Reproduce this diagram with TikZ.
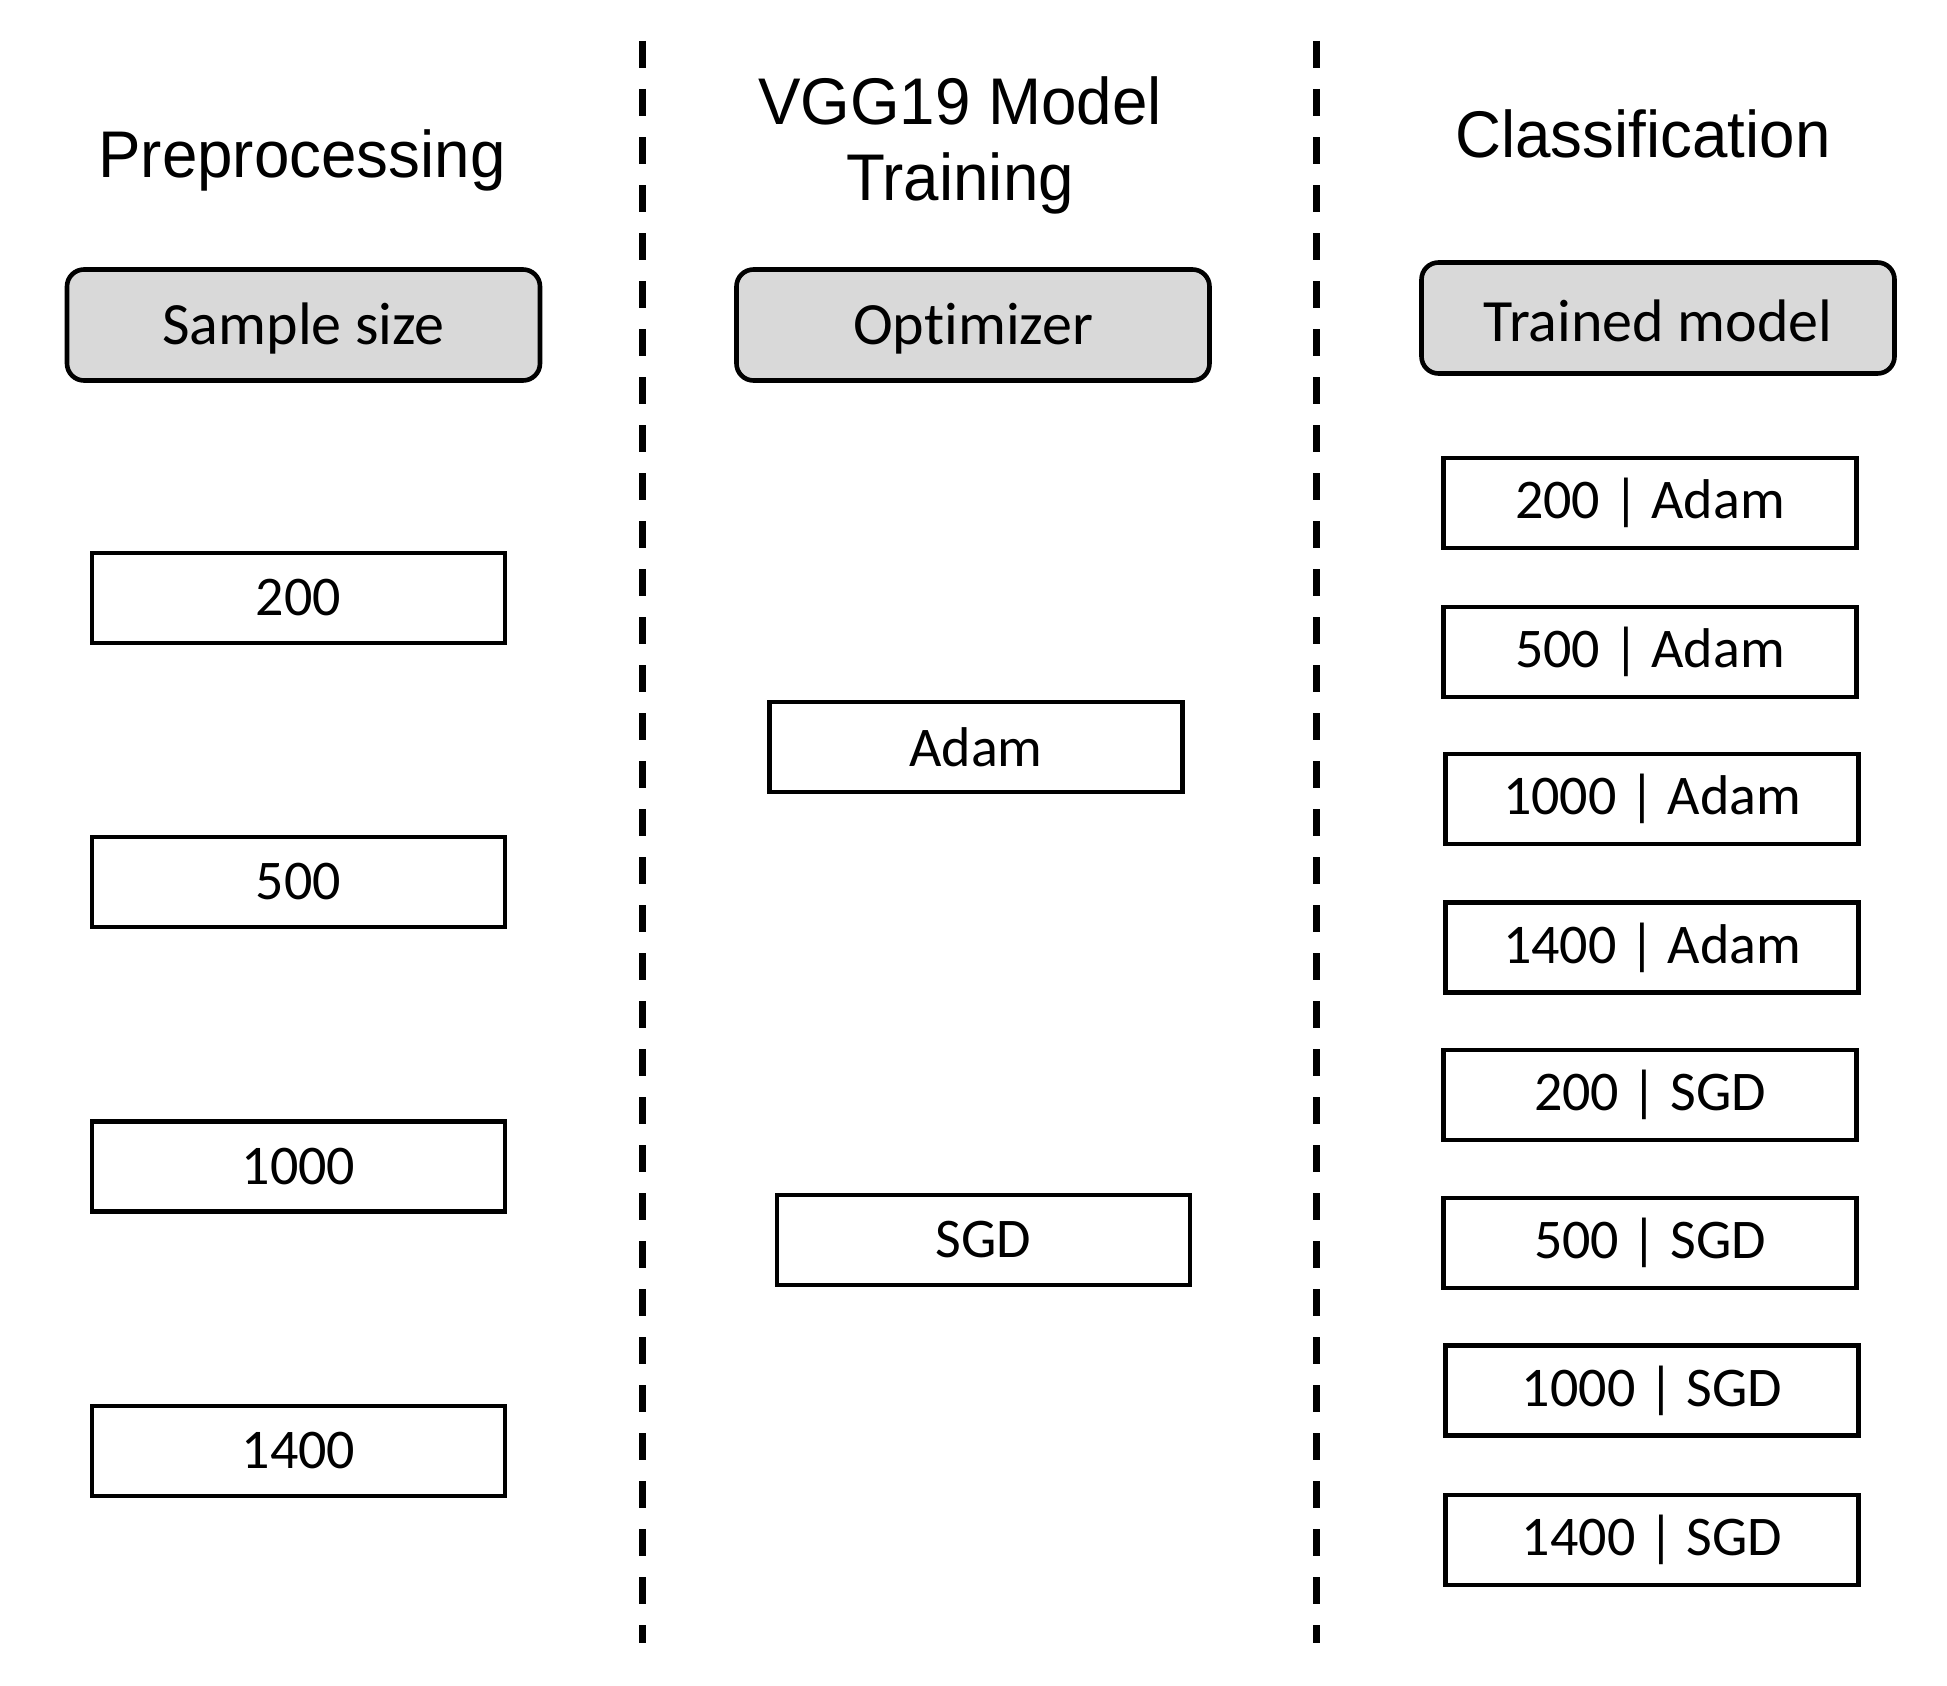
\documentclass[tikz,border=0pt]{standalone}
\usepackage{fontspec}
\setmainfont[Ligatures={NoCommon,NoDiscretionary,NoRare}]{Carlito}
\newfontfamily\titlefont[FakeStretch=0.965]{Liberation Sans}
\usetikzlibrary{positioning}
\begin{document}
\begin{tikzpicture}[x=1pt,y=-1pt,
  titletxt/.style={font=\titlefont\fontsize{66}{76}\selectfont, align=center, inner sep=0pt},
  headbox/.style={draw=black, line width=4.6pt, fill=gray!30, rounded corners=17pt,
    minimum width=473pt, minimum height=111pt, font=\fontsize{60}{62}\selectfont, inner sep=0pt},
  valbox/.style={draw=black, line width=4.6pt, fill=white,
    minimum width=413pt, minimum height=90pt, font=\fontsize{56}{58}\selectfont, inner sep=0pt},
  sepline/.style={line width=7pt, dash pattern=on 27pt off 21pt}
]
\useasboundingbox (0,0) rectangle (1947,1686);
% separators
\coordinate (s1t) at (642,41);
\coordinate (s1b) at (642,1643);
\coordinate (s2t) at (1316,41);
\coordinate (s2b) at (1316,1643);
\draw[sepline] (s1t) -- (s1b);
\draw[sepline] (s2t) -- (s2b);
% titles
\node[titletxt] (t1) at (302,160) {Preprocessing};
\node[titletxt] (t2) at (960,145) {VGG19 Model\\Training};
\node[titletxt] (t3) at (1643,134) {Classification};
% header boxes
\node[headbox] (h1) at (303.5,325) {\raisebox{-4pt}[\height][\depth]{Sample size}};
\node[headbox] (h2) at (973,325) {\raisebox{-4pt}[\height][\depth]{Op\kern0pt timizer}};
\node[headbox] (h3) at (1658,318) {\raisebox{-3pt}[\height][\depth]{Trained model}};
% left column
\node[valbox] (a1) at (298.5,598) {200};
\node[valbox] (a2) at (298.5,882) {500};
\node[valbox] (a3) at (298.5,1166.5) {1000};
\node[valbox] (a4) at (298.5,1451) {1400};
% middle column
\node[valbox] (b1) at (976,747) {Adam};
\node[valbox] (b2) at (983.5,1240) {SGD};
% right column
\node[valbox] (c1) at (1650,503) {200 | Adam};
\node[valbox] (c2) at (1650,652) {500 | Adam};
\node[valbox] (c3) at (1652,799) {1000 | Adam};
\node[valbox] (c4) at (1652,947.5) {1400 | Adam};
\node[valbox] (c5) at (1650,1095) {200 | SGD};
\node[valbox] (c6) at (1650,1243) {500 | SGD};
\node[valbox] (c7) at (1652,1390.5) {1000 | SGD};
\node[valbox] (c8) at (1652,1540) {1400 | SGD};
\end{tikzpicture}
\end{document}
